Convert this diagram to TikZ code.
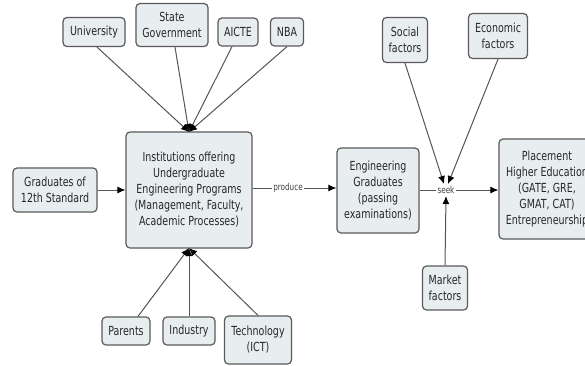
\documentclass[tikz,border=0pt]{standalone}
\usepackage{fontspec}
\usetikzlibrary{arrows.meta}
\newfontfamily\cmapf{DejaVu Sans}[FakeStretch=0.76]
\definecolor{boxfill}{HTML}{E8EEF0}
\definecolor{boxborder}{HTML}{5A5A5A}
\definecolor{linecol}{HTML}{555555}
\tikzset{
  concept/.style={draw=boxborder, fill=boxfill, rounded corners=4pt, line width=1.2pt,
    align=center, inner sep=0pt, text=black!85, font=\cmapf\fontsize{12.5}{16}\selectfont},
  linkph/.style={fill=white, inner sep=1pt, font=\cmapf\fontsize{9.5}{10}\selectfont, text=black!75},
  conn/.style={draw=linecol, line width=1pt},
  arr/.style={conn, -{Latex[length=8pt,width=7pt,color=black,fill=black]}},
}
\begin{document}
\begin{tikzpicture}[x=1pt,y=-1pt]
\useasboundingbox (0,0) rectangle (585,365);
\clip (0,0) rectangle (585,365);
\fill[white] (0,0) rectangle (585,365);

% concepts
\node[concept, minimum width=62pt, minimum height=29pt] (univ) at (94,32) {University};
\node[concept, minimum width=72pt, minimum height=43pt] (state) at (172,25) {State\\Government};
\node[concept, minimum width=40pt, minimum height=28pt] (aicte) at (238,32) {AICTE};
\node[concept, minimum width=33pt, minimum height=28pt] (nba) at (287,32) {NBA};
\node[concept, minimum width=126pt, minimum height=116pt] (inst) at (189,190)
  {Institutions offering\\Undergraduate\\Engineering Programs\\(Management, Faculty,\\Academic Processes)};
\node[concept, minimum width=84pt, minimum height=44pt] (grad) at (55,190) {Graduates of\\12th Standard};
\node[concept, minimum width=82pt, minimum height=85pt] (eng) at (378,190.5)
  {Engineering\\Graduates\\(passing\\examinations)};
\node[concept, minimum width=45pt, minimum height=45pt] (social) at (405,40) {Social\\factors};
\node[concept, minimum width=59pt, minimum height=45pt] (econ) at (498,36) {Economic\\factors};
\node[concept, minimum width=45pt, minimum height=44pt] (market) at (445,288) {Market\\factors};
\node[concept, minimum width=96pt, minimum height=100pt] (place) at (547,189)
  {Placement\\Higher Education\\(GATE, GRE,\\GMAT, CAT)\\Entrepreneurship};
\node[concept, minimum width=48pt, minimum height=28pt] (parents) at (126,331) {Parents};
\node[concept, minimum width=52pt, minimum height=28pt] (industry) at (189,331) {Industry};
\node[concept, minimum width=67pt, minimum height=48pt] (tech) at (258,340) {Technology\\(ICT)};

% linking phrases
\node[linkph] (produce) at (288,188) {produce};
\node[linkph] (seek) at (446,190) {seek};

% coordinates where arrows meet
\coordinate (topin) at (189,132);
\coordinate (botin) at (189,248);
\coordinate (seektop) at (446,184);
\coordinate (seekbot) at (446,196);

% connectors into institutions (top)
\draw[arr] ([xshift=3pt]univ.south) -- (topin);
\draw[arr] ([xshift=3pt]state.south) -- (topin);
\draw[arr] ([xshift=-6pt]aicte.south) -- (topin);
\draw[arr] (nba.south) -- (topin);
% bottom
\draw[arr] ([xshift=12pt]parents.north) -- (botin);
\draw[arr] (industry.north) -- (botin);
\draw[arr] (tech.north) -- (botin);
% left
\draw[arr] (grad) -- (inst);
% produce
\draw[conn] (inst.east |- produce) -- (produce);
\draw[arr] (produce) -- (eng.west |- produce);
% seek
\draw[conn] (eng.east |- seek) -- (seek);
\draw[arr] (seek) -- (place.west |- seek);
\draw[arr] (social.south) -- ([xshift=-2pt]seektop);
\draw[arr] (econ.south) -- ([xshift=2pt]seektop);
\draw[arr] (market.north) -- (seekbot);
\end{tikzpicture}
\end{document}
